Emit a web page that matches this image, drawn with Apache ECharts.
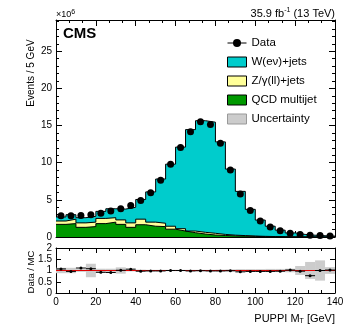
<!DOCTYPE html>
<html>
<head>
<meta charset="utf-8">
<script src="https://cdn.jsdelivr.net/npm/echarts@6/dist/echarts.min.js"></script>
<style>
  html, body { margin: 0; padding: 0; background: #fff; }
  #chart { width: 349px; height: 335px; }
</style>
</head>
<body>
<div id="chart"></div>
<script>
// bin edges in GeV (28 bins of 5 GeV)
const binEdges = [0, 5, 10, 15, 20, 25, 30, 35, 40, 45, 50, 55, 60, 65, 70,
  75, 80, 85, 90, 95, 100, 105, 110, 115, 120, 125, 130, 135, 140]

// events per bin, in units of 10^6
const qcdMultijet = [1.7, 1.8, 1.3, 1.4, 1.8, 2.0, 1.7, 1.3, 1.65, 1.45, 1.4, 1.05, 0.8, 0.58,
  0.4, 0.27, 0.2, 0.15, 0.12, 0.08, 0.05, 0.03, 0.02, 0.01, 0.01, 0.01, 0, 0]
const zJets = [0.45, 0.6, 0.6, 0.6, 0.7, 0.6, 0.6, 0.6, 0.75, 0.55, 0.45, 0.4, 0.32, 0.22,
  0.23, 0.23, 0.15, 0.1, 0.07, 0.05, 0.04, 0.03, 0.02, 0.01, 0.01, 0, 0, 0]
const wJets = [0.55, 0.6, 0.7, 0.78, 0.95, 1.2, 1.46, 2.1, 2.65, 4.07, 5.95, 8.35, 10.98, 13.65,
  15.02, 14.95, 12.45, 8.89, 5.95, 3.59, 2.19, 1.39, 0.88, 0.53, 0.33, 0.23, 0.17, 0.12]
const dataCounts = [2.87, 2.87, 2.9, 3.0, 3.2, 3.5, 3.8, 4.25, 4.9, 5.95, 7.65, 9.8, 12.05, 14.15,
  15.5, 15.15, 12.6, 9.0, 5.78, 3.55, 2.15, 1.34, 0.85, 0.5, 0.33, 0.25, 0.2, 0.13]

// ratio panel
const dataOverMC = [1.07, 0.96, 1.11, 1.08, 0.92, 0.91, 1.01, 1.06, 0.97, 0.98, 0.98, 1.0, 1.0, 0.98,
  0.99, 0.98, 0.98, 0.99, 0.94, 0.96, 0.96, 0.96, 0.97, 1.02, 0.97, 0.77, 1.0, 1.02]
const ratioUnc = [0.12, 0.12, 0.06, 0.3, 0.08, 0.08, 0.14, 0.04, 0.04, 0.03, 0.03, 0.03, 0.03, 0.03,
  0.03, 0.03, 0.04, 0.05, 0.06, 0.06, 0.06, 0.07, 0.07, 0.08, 0.2, 0.38, 0.45, 0.15]

const FONT = '"Liberation Sans", Arial, Helvetica, sans-serif'
const C_W = '#00cccc'
const C_Z = '#ffff99'
const C_QCD = '#009900'
const C_UNC = '#cccccc'

const chart = echarts.init(document.getElementById('chart'))

// cumulative stack tops
const qcdTop = qcdMultijet.slice()
const zTop = qcdMultijet.map((v, i) => v + zJets[i])
const wTop = zTop.map((v, i) => v + wJets[i])

function stepData(vals) {
  const pts = vals.map((v, i) => [binEdges[i], v])
  pts.push([binEdges[binEdges.length - 1], vals[vals.length - 1]])
  return pts
}
const binCenter = (i) => (binEdges[i] + binEdges[i + 1]) / 2

function stackSeries(name, vals, color) {
  return {
    name: name,
    type: 'line',
    xAxisIndex: 0,
    yAxisIndex: 0,
    step: 'end',
    showSymbol: false,
    symbol: 'none',
    data: stepData(vals),
    itemStyle: { color: color },
    lineStyle: { color: '#000', width: 1 },
    areaStyle: { color: color, opacity: 1 },
    silent: true
  }
}

function valueAxis(opts) {
  return Object.assign({
    type: 'value',
    splitLine: { show: false },
    axisLine: { show: true, onZero: false, lineStyle: { color: '#000', width: 1 } },
    axisTick: { show: true, inside: true, length: 6, lineStyle: { color: '#000' } },
    minorTick: { show: true, length: 3, lineStyle: { color: '#000' } },
    axisLabel: { show: false }
  }, opts)
}

const labelStyle = { show: true, fontFamily: FONT, fontSize: 10, color: '#000', margin: 4 }

const option = {
  animation: false,
  grid: [
    { left: 56, top: 20, width: 279, height: 217 },
    { left: 56, top: 248, width: 279, height: 45 }
  ],
  xAxis: [
    valueAxis({ gridIndex: 0, position: 'bottom', min: 0, max: 140, interval: 20,
      minorTick: { show: true, splitNumber: 3, length: 3, lineStyle: { color: '#000' } } }),
    valueAxis({ gridIndex: 0, position: 'top', min: 0, max: 140, interval: 20,
      minorTick: { show: true, splitNumber: 3, length: 3, lineStyle: { color: '#000' } } }),
    valueAxis({ gridIndex: 1, position: 'bottom', min: 0, max: 140, interval: 20,
      axisTick: { show: true, inside: true, length: 5, lineStyle: { color: '#000' } },
      minorTick: { show: true, splitNumber: 3, length: 3, lineStyle: { color: '#000' } },
      axisLabel: labelStyle }),
    valueAxis({ gridIndex: 1, position: 'top', min: 0, max: 140, interval: 20,
      axisTick: { show: true, inside: true, length: 5, lineStyle: { color: '#000' } },
      minorTick: { show: true, splitNumber: 3, length: 3, lineStyle: { color: '#000' } } })
  ],
  yAxis: [
    valueAxis({ gridIndex: 0, position: 'left', min: 0, max: 29.2, interval: 5,
      minorTick: { show: true, splitNumber: 5, length: 3, lineStyle: { color: '#000' } },
      axisLabel: Object.assign({ showMaxLabel: false }, labelStyle) }),
    valueAxis({ gridIndex: 0, position: 'right', min: 0, max: 29.2, interval: 5,
      minorTick: { show: true, splitNumber: 5, length: 3, lineStyle: { color: '#000' } } }),
    valueAxis({ gridIndex: 1, position: 'left', min: 0, max: 2, interval: 0.5,
      axisTick: { show: true, inside: true, length: 5, lineStyle: { color: '#000' } },
      minorTick: { show: false },
      axisLabel: Object.assign({ formatter: (v) => String(v) }, labelStyle) }),
    valueAxis({ gridIndex: 1, position: 'right', min: 0, max: 2, interval: 0.5,
      axisTick: { show: true, inside: true, length: 5, lineStyle: { color: '#000' } },
      minorTick: { show: false } })
  ],
  legend: {
    orient: 'vertical',
    left: 222,
    top: 32,
    itemWidth: 19,
    itemHeight: 10,
    itemGap: 7,
    selectedMode: false,
    textStyle: { fontFamily: FONT, fontSize: 11.5, color: '#000', lineHeight: 12 },
    data: [
      { name: 'Data', lineStyle: { color: '#000', width: 1, opacity: 1 } },
      { name: 'W(eν)+jets', icon: 'rect', itemStyle: { color: C_W, borderColor: '#000', borderWidth: 1 } },
      { name: 'Z/γ(ll)+jets', icon: 'rect', itemStyle: { color: C_Z, borderColor: '#000', borderWidth: 1 } },
      { name: 'QCD multijet', icon: 'rect', itemStyle: { color: C_QCD, borderColor: '#000', borderWidth: 1 } },
      { name: 'Uncertainty', icon: 'rect', itemStyle: { color: C_UNC, borderColor: '#999', borderWidth: 1 } }
    ]
  },
  graphic: [
    { type: 'text', left: 56, top: 9,
      style: { text: '×10{s|6}', fontFamily: FONT, fontSize: 9, fill: '#000',
        rich: { s: { fontSize: 7, verticalAlign: 'top', padding: [0, 0, 5, 0] } } } },
    { type: 'text', left: 63, top: 26,
      style: { text: 'CMS', fontFamily: FONT, fontSize: 15, fontWeight: 'bold', fill: '#000' } },
    { type: 'text', right: 14, top: 7,
      style: { text: '35.9 fb{s|-1} (13 TeV)', fontFamily: FONT, fontSize: 11, fill: '#000',
        rich: { s: { fontSize: 7, padding: [0, 0, 6, 0] } } } },
    { type: 'text', x: 31, y: 73, rotation: Math.PI / 2,
      style: { text: 'Events / 5 GeV', fontFamily: FONT, fontSize: 10, fill: '#000',
        align: 'center', verticalAlign: 'middle' } },
    { type: 'text', x: 31, y: 272, rotation: Math.PI / 2,
      style: { text: 'Data / MC', fontFamily: FONT, fontSize: 9.5, fill: '#000',
        align: 'center', verticalAlign: 'middle' } },
    { type: 'text', right: 14, top: 313,
      style: { text: 'PUPPI M{t|T} [GeV]', fontFamily: FONT, fontSize: 11, fill: '#000',
        rich: { t: { fontSize: 7, padding: [6, 0, 0, 0] } } } }
  ],
  series: [
    stackSeries('W(eν)+jets', wTop, C_W),
    stackSeries('Z/γ(ll)+jets', zTop, C_Z),
    stackSeries('QCD multijet', qcdTop, C_QCD),
    {
      name: 'Data',
      type: 'line',
      xAxisIndex: 0,
      yAxisIndex: 0,
      data: dataCounts.map((v, i) => [binCenter(i), v]),
      symbol: 'circle',
      symbolSize: 7,
      showSymbol: true,
      itemStyle: { color: '#000' },
      lineStyle: { width: 0, opacity: 0 },
      z: 5
    },
    {
      name: 'Uncertainty',
      type: 'custom',
      xAxisIndex: 2,
      yAxisIndex: 2,
      itemStyle: { color: C_UNC },
      data: ratioUnc.map((u, i) => [binEdges[i], binEdges[i + 1], 1 - u, 1 + u]),
      encode: { x: [0, 1], y: [2, 3] },
      clip: true,
      renderItem: function (params, api) {
        const p0 = api.coord([api.value(0), api.value(3)])
        const p1 = api.coord([api.value(1), api.value(2)])
        return {
          type: 'rect',
          shape: { x: p0[0], y: p0[1], width: p1[0] - p0[0], height: p1[1] - p0[1] },
          style: { fill: C_UNC }
        }
      },
      markLine: {
        silent: true,
        symbol: 'none',
        label: { show: false },
        lineStyle: { color: '#e00000', type: 'solid', width: 1 },
        data: [{ yAxis: 1 }]
      }
    },
    {
      name: 'ratio',
      type: 'custom',
      xAxisIndex: 2,
      yAxisIndex: 2,
      data: dataOverMC.map((r, i) => [binEdges[i], binEdges[i + 1], r]),
      encode: { x: [0, 1], y: 2 },
      z: 5,
      renderItem: function (params, api) {
        const a = api.coord([api.value(0), api.value(2)])
        const b = api.coord([api.value(1), api.value(2)])
        return {
          type: 'group',
          children: [
            { type: 'line', shape: { x1: a[0], y1: a[1], x2: b[0], y2: b[1] },
              style: { stroke: '#000', lineWidth: 1 } },
            { type: 'circle', shape: { cx: (a[0] + b[0]) / 2, cy: a[1], r: 1.5 },
              style: { fill: '#000' } }
          ]
        }
      }
    }
  ]
}

chart.setOption(option)
</script>
</body>
</html>
